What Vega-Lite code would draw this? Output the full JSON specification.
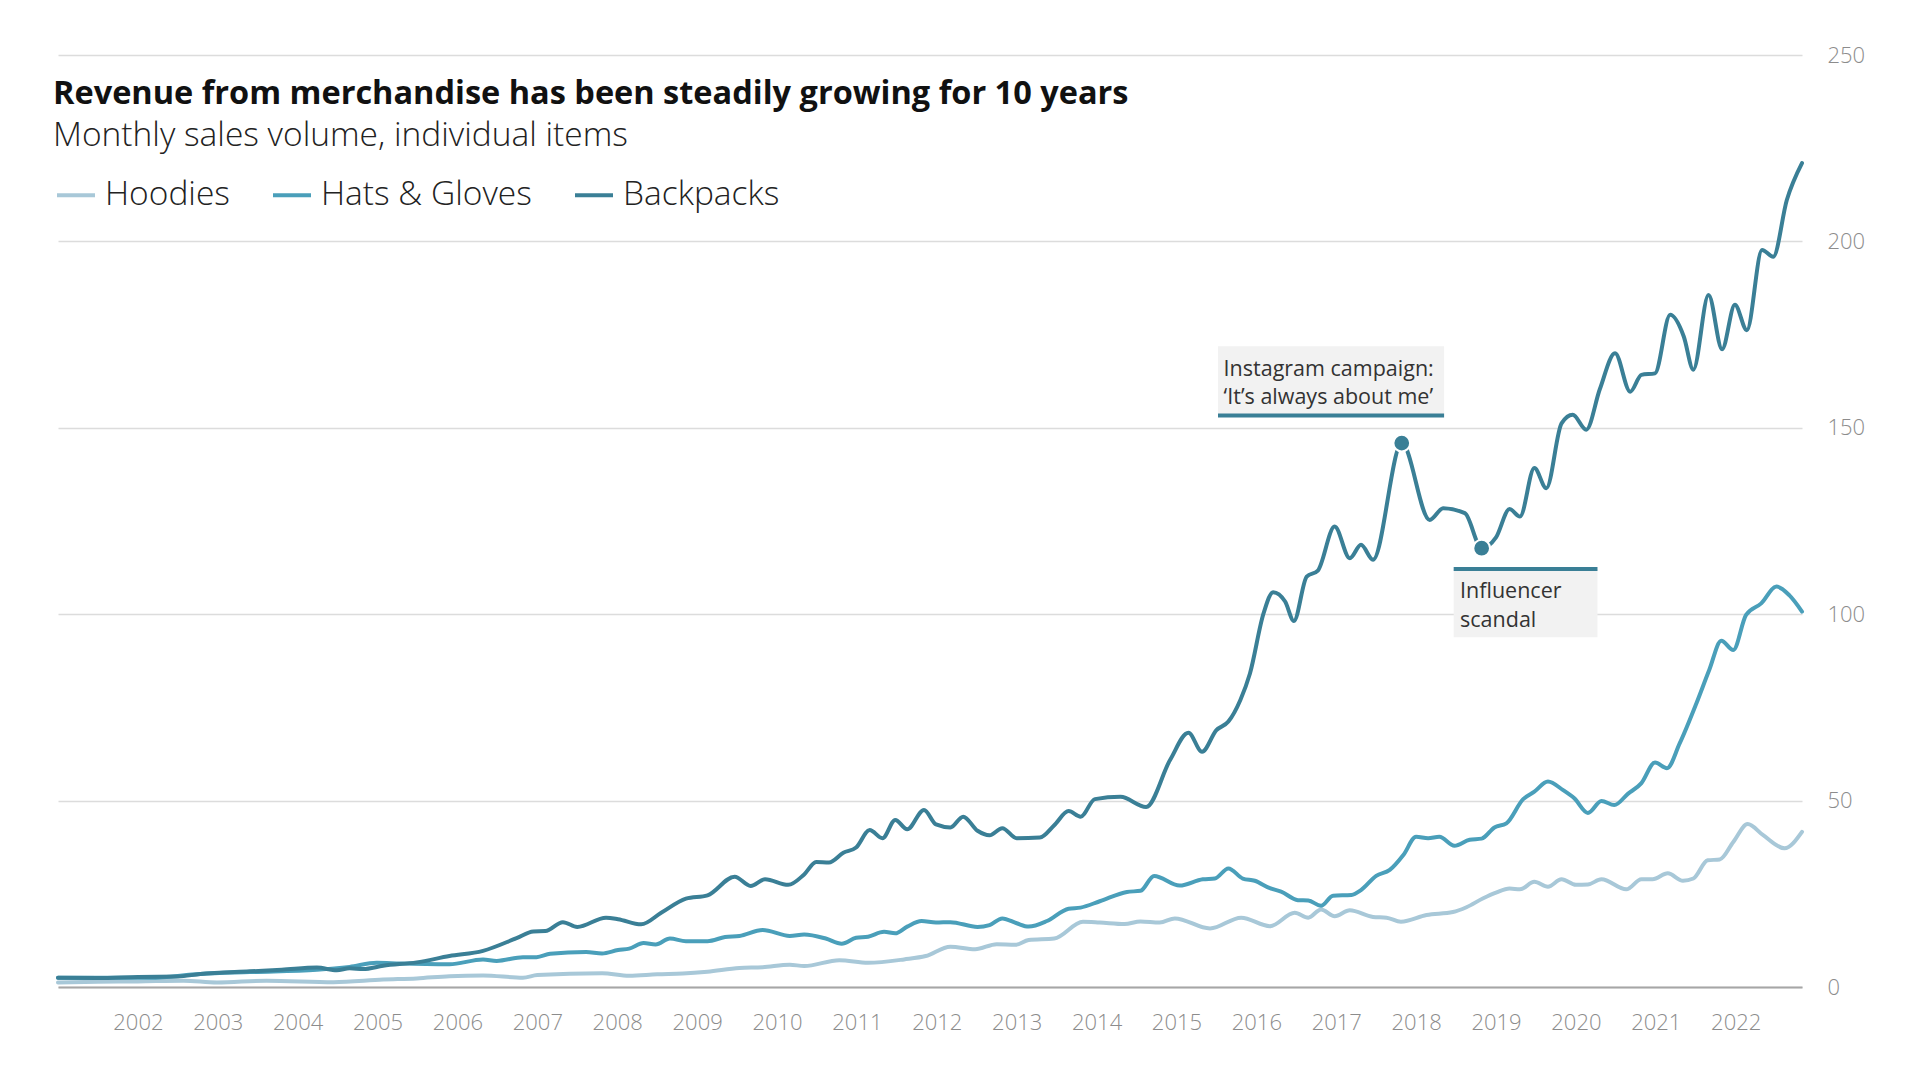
{
  "$schema": "https://vega.github.io/schema/vega-lite/v6.json",
  "description": "Monthly sales volume of merchandise, 2001-2022, three product lines with two annotated events.",
  "width": 1744,
  "height": 932,
  "autosize": {"type": "none"},
  "padding": {"left": 58, "top": 55, "right": 118, "bottom": 93},
  "background": "white",
  "config": {
    "view": {"stroke": null},
    "font": "Open Sans"
  },
  "title": {
    "text": "Revenue from merchandise has been steadily growing for 10 years",
    "subtitle": "Monthly sales volume, individual items",
    "anchor": "start",
    "frame": "group",
    "orient": "top",
    "offset": -108,
    "dx": -5,
    "font": "Open Sans",
    "fontSize": 32.5,
    "fontWeight": "bold",
    "color": "#111111",
    "subtitleFont": "Open Sans",
    "subtitleFontSize": 33.5,
    "subtitleFontWeight": 300,
    "subtitleColor": "#222222",
    "subtitlePadding": 9
  },
  "data": {
    "values": [
      {"series": "Hoodies", "year": 2001.0, "value": 1.2},
      {"series": "Hoodies", "year": 2001.5, "value": 1.4},
      {"series": "Hoodies", "year": 2002.0, "value": 1.5},
      {"series": "Hoodies", "year": 2002.57, "value": 1.7},
      {"series": "Hoodies", "year": 2002.99, "value": 1.2},
      {"series": "Hoodies", "year": 2003.61, "value": 1.7},
      {"series": "Hoodies", "year": 2004.45, "value": 1.3},
      {"series": "Hoodies", "year": 2005.07, "value": 2.0},
      {"series": "Hoodies", "year": 2005.49, "value": 2.3},
      {"series": "Hoodies", "year": 2005.9, "value": 2.9},
      {"series": "Hoodies", "year": 2006.32, "value": 3.1},
      {"series": "Hoodies", "year": 2006.82, "value": 2.5},
      {"series": "Hoodies", "year": 2007.0, "value": 3.2},
      {"series": "Hoodies", "year": 2007.81, "value": 3.7},
      {"series": "Hoodies", "year": 2008.15, "value": 3.0},
      {"series": "Hoodies", "year": 2008.5, "value": 3.4},
      {"series": "Hoodies", "year": 2008.82, "value": 3.6},
      {"series": "Hoodies", "year": 2009.13, "value": 4.1},
      {"series": "Hoodies", "year": 2009.53, "value": 5.1},
      {"series": "Hoodies", "year": 2009.82, "value": 5.3},
      {"series": "Hoodies", "year": 2010.16, "value": 6.0},
      {"series": "Hoodies", "year": 2010.34, "value": 5.6},
      {"series": "Hoodies", "year": 2010.78, "value": 7.2},
      {"series": "Hoodies", "year": 2011.14, "value": 6.5},
      {"series": "Hoodies", "year": 2011.59, "value": 7.4},
      {"series": "Hoodies", "year": 2011.86, "value": 8.3},
      {"series": "Hoodies", "year": 2012.17, "value": 10.8},
      {"series": "Hoodies", "year": 2012.48, "value": 10.1},
      {"series": "Hoodies", "year": 2012.75, "value": 11.5},
      {"series": "Hoodies", "year": 2012.98, "value": 11.3},
      {"series": "Hoodies", "year": 2013.15, "value": 12.6},
      {"series": "Hoodies", "year": 2013.47, "value": 13.0},
      {"series": "Hoodies", "year": 2013.83, "value": 17.5},
      {"series": "Hoodies", "year": 2014.04, "value": 17.3},
      {"series": "Hoodies", "year": 2014.35, "value": 16.9},
      {"series": "Hoodies", "year": 2014.55, "value": 17.6},
      {"series": "Hoodies", "year": 2014.79, "value": 17.3},
      {"series": "Hoodies", "year": 2014.98, "value": 18.4},
      {"series": "Hoodies", "year": 2015.42, "value": 15.7},
      {"series": "Hoodies", "year": 2015.81, "value": 18.6},
      {"series": "Hoodies", "year": 2016.17, "value": 16.3},
      {"series": "Hoodies", "year": 2016.48, "value": 19.9},
      {"series": "Hoodies", "year": 2016.65, "value": 18.6},
      {"series": "Hoodies", "year": 2016.81, "value": 20.8},
      {"series": "Hoodies", "year": 2016.98, "value": 19.0},
      {"series": "Hoodies", "year": 2017.17, "value": 20.6},
      {"series": "Hoodies", "year": 2017.46, "value": 18.8},
      {"series": "Hoodies", "year": 2017.63, "value": 18.6},
      {"series": "Hoodies", "year": 2017.81, "value": 17.5},
      {"series": "Hoodies", "year": 2018.13, "value": 19.3},
      {"series": "Hoodies", "year": 2018.46, "value": 20.1},
      {"series": "Hoodies", "year": 2018.63, "value": 21.4},
      {"series": "Hoodies", "year": 2018.84, "value": 23.8},
      {"series": "Hoodies", "year": 2019.0, "value": 25.3},
      {"series": "Hoodies", "year": 2019.17, "value": 26.4},
      {"series": "Hoodies", "year": 2019.3, "value": 26.2},
      {"series": "Hoodies", "year": 2019.48, "value": 28.2},
      {"series": "Hoodies", "year": 2019.65, "value": 26.9},
      {"series": "Hoodies", "year": 2019.82, "value": 28.9},
      {"series": "Hoodies", "year": 2020.0, "value": 27.4},
      {"series": "Hoodies", "year": 2020.15, "value": 27.5},
      {"series": "Hoodies", "year": 2020.32, "value": 28.9},
      {"series": "Hoodies", "year": 2020.63, "value": 26.2},
      {"series": "Hoodies", "year": 2020.82, "value": 28.9},
      {"series": "Hoodies", "year": 2020.96, "value": 28.9},
      {"series": "Hoodies", "year": 2021.15, "value": 30.5},
      {"series": "Hoodies", "year": 2021.34, "value": 28.5},
      {"series": "Hoodies", "year": 2021.47, "value": 29.1},
      {"series": "Hoodies", "year": 2021.65, "value": 34.0},
      {"series": "Hoodies", "year": 2021.8, "value": 34.2},
      {"series": "Hoodies", "year": 2021.97, "value": 38.9},
      {"series": "Hoodies", "year": 2022.15, "value": 43.7},
      {"series": "Hoodies", "year": 2022.34, "value": 40.8},
      {"series": "Hoodies", "year": 2022.61, "value": 37.2},
      {"series": "Hoodies", "year": 2022.83, "value": 41.6},

      {"series": "Hats & Gloves", "year": 2001.0, "value": 2.5},
      {"series": "Hats & Gloves", "year": 2002.15, "value": 2.5},
      {"series": "Hats & Gloves", "year": 2002.78, "value": 3.5},
      {"series": "Hats & Gloves", "year": 2003.4, "value": 4.0},
      {"series": "Hats & Gloves", "year": 2004.24, "value": 4.6},
      {"series": "Hats & Gloves", "year": 2004.65, "value": 5.4},
      {"series": "Hats & Gloves", "year": 2004.99, "value": 6.5},
      {"series": "Hats & Gloves", "year": 2005.28, "value": 6.3},
      {"series": "Hats & Gloves", "year": 2005.9, "value": 6.1},
      {"series": "Hats & Gloves", "year": 2006.32, "value": 7.4},
      {"series": "Hats & Gloves", "year": 2006.49, "value": 7.0},
      {"series": "Hats & Gloves", "year": 2006.82, "value": 8.0},
      {"series": "Hats & Gloves", "year": 2006.99, "value": 8.0},
      {"series": "Hats & Gloves", "year": 2007.16, "value": 8.9},
      {"series": "Hats & Gloves", "year": 2007.61, "value": 9.4},
      {"series": "Hats & Gloves", "year": 2007.81, "value": 9.0},
      {"series": "Hats & Gloves", "year": 2008.01, "value": 9.9},
      {"series": "Hats & Gloves", "year": 2008.15, "value": 10.3},
      {"series": "Hats & Gloves", "year": 2008.33, "value": 11.8},
      {"series": "Hats & Gloves", "year": 2008.48, "value": 11.4},
      {"series": "Hats & Gloves", "year": 2008.66, "value": 13.0},
      {"series": "Hats & Gloves", "year": 2008.86, "value": 12.3},
      {"series": "Hats & Gloves", "year": 2009.13, "value": 12.3},
      {"series": "Hats & Gloves", "year": 2009.35, "value": 13.4},
      {"series": "Hats & Gloves", "year": 2009.53, "value": 13.7},
      {"series": "Hats & Gloves", "year": 2009.82, "value": 15.3},
      {"series": "Hats & Gloves", "year": 2010.16, "value": 13.7},
      {"series": "Hats & Gloves", "year": 2010.34, "value": 14.1},
      {"series": "Hats & Gloves", "year": 2010.61, "value": 13.0},
      {"series": "Hats & Gloves", "year": 2010.81, "value": 11.6},
      {"series": "Hats & Gloves", "year": 2010.99, "value": 13.2},
      {"series": "Hats & Gloves", "year": 2011.14, "value": 13.5},
      {"series": "Hats & Gloves", "year": 2011.34, "value": 14.8},
      {"series": "Hats & Gloves", "year": 2011.48, "value": 14.4},
      {"series": "Hats & Gloves", "year": 2011.63, "value": 16.2},
      {"series": "Hats & Gloves", "year": 2011.81, "value": 17.7},
      {"series": "Hats & Gloves", "year": 2011.99, "value": 17.3},
      {"series": "Hats & Gloves", "year": 2012.17, "value": 17.4},
      {"series": "Hats & Gloves", "year": 2012.51, "value": 16.1},
      {"series": "Hats & Gloves", "year": 2012.66, "value": 16.6},
      {"series": "Hats & Gloves", "year": 2012.82, "value": 18.4},
      {"series": "Hats & Gloves", "year": 2013.0, "value": 17.1},
      {"series": "Hats & Gloves", "year": 2013.15, "value": 16.2},
      {"series": "Hats & Gloves", "year": 2013.38, "value": 17.7},
      {"series": "Hats & Gloves", "year": 2013.65, "value": 21.0},
      {"series": "Hats & Gloves", "year": 2013.8, "value": 21.3},
      {"series": "Hats & Gloves", "year": 2014.04, "value": 23.0},
      {"series": "Hats & Gloves", "year": 2014.38, "value": 25.5},
      {"series": "Hats & Gloves", "year": 2014.55, "value": 25.8},
      {"series": "Hats & Gloves", "year": 2014.72, "value": 29.8},
      {"series": "Hats & Gloves", "year": 2015.04, "value": 27.2},
      {"series": "Hats & Gloves", "year": 2015.33, "value": 28.9},
      {"series": "Hats & Gloves", "year": 2015.48, "value": 29.1},
      {"series": "Hats & Gloves", "year": 2015.65, "value": 31.8},
      {"series": "Hats & Gloves", "year": 2015.83, "value": 29.1},
      {"series": "Hats & Gloves", "year": 2015.98, "value": 28.5},
      {"series": "Hats & Gloves", "year": 2016.17, "value": 26.5},
      {"series": "Hats & Gloves", "year": 2016.31, "value": 25.6},
      {"series": "Hats & Gloves", "year": 2016.52, "value": 23.3},
      {"series": "Hats & Gloves", "year": 2016.65, "value": 23.2},
      {"series": "Hats & Gloves", "year": 2016.81, "value": 21.8},
      {"series": "Hats & Gloves", "year": 2016.96, "value": 24.5},
      {"series": "Hats & Gloves", "year": 2017.19, "value": 24.7},
      {"series": "Hats & Gloves", "year": 2017.31, "value": 26.0},
      {"series": "Hats & Gloves", "year": 2017.5, "value": 29.8},
      {"series": "Hats & Gloves", "year": 2017.67, "value": 31.4},
      {"series": "Hats & Gloves", "year": 2017.84, "value": 35.4},
      {"series": "Hats & Gloves", "year": 2018.0, "value": 40.3},
      {"series": "Hats & Gloves", "year": 2018.15, "value": 39.9},
      {"series": "Hats & Gloves", "year": 2018.29, "value": 40.3},
      {"series": "Hats & Gloves", "year": 2018.48, "value": 37.9},
      {"series": "Hats & Gloves", "year": 2018.67, "value": 39.5},
      {"series": "Hats & Gloves", "year": 2018.82, "value": 39.8},
      {"series": "Hats & Gloves", "year": 2018.98, "value": 42.8},
      {"series": "Hats & Gloves", "year": 2019.13, "value": 43.9},
      {"series": "Hats & Gloves", "year": 2019.34, "value": 50.4},
      {"series": "Hats & Gloves", "year": 2019.48, "value": 52.4},
      {"series": "Hats & Gloves", "year": 2019.65, "value": 55.1},
      {"series": "Hats & Gloves", "year": 2019.84, "value": 52.8},
      {"series": "Hats & Gloves", "year": 2019.98, "value": 50.6},
      {"series": "Hats & Gloves", "year": 2020.15, "value": 46.7},
      {"series": "Hats & Gloves", "year": 2020.32, "value": 49.9},
      {"series": "Hats & Gloves", "year": 2020.48, "value": 48.8},
      {"series": "Hats & Gloves", "year": 2020.65, "value": 51.8},
      {"series": "Hats & Gloves", "year": 2020.82, "value": 54.7},
      {"series": "Hats & Gloves", "year": 2020.99, "value": 60.2},
      {"series": "Hats & Gloves", "year": 2021.14, "value": 58.7},
      {"series": "Hats & Gloves", "year": 2021.3, "value": 65.4},
      {"series": "Hats & Gloves", "year": 2021.51, "value": 76.2},
      {"series": "Hats & Gloves", "year": 2021.67, "value": 85.1},
      {"series": "Hats & Gloves", "year": 2021.82, "value": 92.9},
      {"series": "Hats & Gloves", "year": 2021.97, "value": 90.4},
      {"series": "Hats & Gloves", "year": 2022.13, "value": 99.8},
      {"series": "Hats & Gloves", "year": 2022.32, "value": 102.9},
      {"series": "Hats & Gloves", "year": 2022.51, "value": 107.4},
      {"series": "Hats & Gloves", "year": 2022.67, "value": 105.1},
      {"series": "Hats & Gloves", "year": 2022.83, "value": 100.7},

      {"series": "Backpacks", "year": 2001.0, "value": 2.5},
      {"series": "Backpacks", "year": 2001.5, "value": 2.4},
      {"series": "Backpacks", "year": 2002.0, "value": 2.7},
      {"series": "Backpacks", "year": 2002.5, "value": 2.8},
      {"series": "Backpacks", "year": 2002.78, "value": 3.5},
      {"series": "Backpacks", "year": 2003.4, "value": 4.2},
      {"series": "Backpacks", "year": 2003.8, "value": 4.6},
      {"series": "Backpacks", "year": 2004.24, "value": 5.2},
      {"series": "Backpacks", "year": 2004.49, "value": 4.5},
      {"series": "Backpacks", "year": 2004.65, "value": 5.0},
      {"series": "Backpacks", "year": 2004.82, "value": 4.8},
      {"series": "Backpacks", "year": 2005.07, "value": 5.7},
      {"series": "Backpacks", "year": 2005.49, "value": 6.6},
      {"series": "Backpacks", "year": 2005.9, "value": 8.3},
      {"series": "Backpacks", "year": 2006.32, "value": 9.7},
      {"series": "Backpacks", "year": 2006.74, "value": 13.1},
      {"series": "Backpacks", "year": 2006.95, "value": 14.9},
      {"series": "Backpacks", "year": 2007.1, "value": 15.0},
      {"series": "Backpacks", "year": 2007.32, "value": 17.4},
      {"series": "Backpacks", "year": 2007.5, "value": 16.1},
      {"series": "Backpacks", "year": 2007.86, "value": 18.6},
      {"series": "Backpacks", "year": 2008.01, "value": 18.2},
      {"series": "Backpacks", "year": 2008.3, "value": 16.8},
      {"series": "Backpacks", "year": 2008.55, "value": 19.9},
      {"series": "Backpacks", "year": 2008.86, "value": 23.7},
      {"series": "Backpacks", "year": 2009.13, "value": 24.6},
      {"series": "Backpacks", "year": 2009.47, "value": 29.6},
      {"series": "Backpacks", "year": 2009.67, "value": 27.1},
      {"series": "Backpacks", "year": 2009.85, "value": 28.9},
      {"series": "Backpacks", "year": 2010.14, "value": 27.4},
      {"series": "Backpacks", "year": 2010.34, "value": 30.2},
      {"series": "Backpacks", "year": 2010.49, "value": 33.5},
      {"series": "Backpacks", "year": 2010.65, "value": 33.4},
      {"series": "Backpacks", "year": 2010.83, "value": 36.0},
      {"series": "Backpacks", "year": 2010.99, "value": 37.4},
      {"series": "Backpacks", "year": 2011.16, "value": 42.1},
      {"series": "Backpacks", "year": 2011.32, "value": 39.9},
      {"series": "Backpacks", "year": 2011.48, "value": 44.8},
      {"series": "Backpacks", "year": 2011.63, "value": 42.3},
      {"series": "Backpacks", "year": 2011.84, "value": 47.5},
      {"series": "Backpacks", "year": 2011.99, "value": 43.6},
      {"series": "Backpacks", "year": 2012.17, "value": 42.8},
      {"series": "Backpacks", "year": 2012.33, "value": 45.7},
      {"series": "Backpacks", "year": 2012.51, "value": 41.9},
      {"series": "Backpacks", "year": 2012.66, "value": 40.7},
      {"series": "Backpacks", "year": 2012.82, "value": 42.6},
      {"series": "Backpacks", "year": 2013.0, "value": 39.9},
      {"series": "Backpacks", "year": 2013.29, "value": 40.1},
      {"series": "Backpacks", "year": 2013.47, "value": 43.4},
      {"series": "Backpacks", "year": 2013.65, "value": 47.2},
      {"series": "Backpacks", "year": 2013.8, "value": 45.7},
      {"series": "Backpacks", "year": 2013.98, "value": 50.4},
      {"series": "Backpacks", "year": 2014.3, "value": 51.0},
      {"series": "Backpacks", "year": 2014.62, "value": 48.3},
      {"series": "Backpacks", "year": 2014.92, "value": 60.9},
      {"series": "Backpacks", "year": 2015.15, "value": 68.2},
      {"series": "Backpacks", "year": 2015.32, "value": 63.1},
      {"series": "Backpacks", "year": 2015.5, "value": 68.9},
      {"series": "Backpacks", "year": 2015.65, "value": 71.2},
      {"series": "Backpacks", "year": 2015.8, "value": 77.0},
      {"series": "Backpacks", "year": 2015.92, "value": 84.1},
      {"series": "Backpacks", "year": 2016.09, "value": 100.2},
      {"series": "Backpacks", "year": 2016.21, "value": 105.9},
      {"series": "Backpacks", "year": 2016.36, "value": 103.4},
      {"series": "Backpacks", "year": 2016.47, "value": 98.2},
      {"series": "Backpacks", "year": 2016.63, "value": 110.1},
      {"series": "Backpacks", "year": 2016.77, "value": 111.7},
      {"series": "Backpacks", "year": 2016.98, "value": 123.5},
      {"series": "Backpacks", "year": 2017.17, "value": 115.0},
      {"series": "Backpacks", "year": 2017.31, "value": 118.6},
      {"series": "Backpacks", "year": 2017.46, "value": 114.6},
      {"series": "Backpacks", "year": 2017.82, "value": 145.9},
      {"series": "Backpacks", "year": 2018.17, "value": 125.3},
      {"series": "Backpacks", "year": 2018.34, "value": 128.4},
      {"series": "Backpacks", "year": 2018.61, "value": 127.1},
      {"series": "Backpacks", "year": 2018.82, "value": 117.7},
      {"series": "Backpacks", "year": 2019.0, "value": 120.6},
      {"series": "Backpacks", "year": 2019.17, "value": 128.2},
      {"series": "Backpacks", "year": 2019.3, "value": 126.2},
      {"series": "Backpacks", "year": 2019.48, "value": 139.2},
      {"series": "Backpacks", "year": 2019.63, "value": 133.8},
      {"series": "Backpacks", "year": 2019.82, "value": 151.2},
      {"series": "Backpacks", "year": 2019.96, "value": 153.5},
      {"series": "Backpacks", "year": 2020.13, "value": 149.5},
      {"series": "Backpacks", "year": 2020.3, "value": 160.4},
      {"series": "Backpacks", "year": 2020.49, "value": 170.0},
      {"series": "Backpacks", "year": 2020.68, "value": 159.7},
      {"series": "Backpacks", "year": 2020.82, "value": 164.2},
      {"series": "Backpacks", "year": 2020.99, "value": 164.6},
      {"series": "Backpacks", "year": 2021.18, "value": 180.3},
      {"series": "Backpacks", "year": 2021.35, "value": 174.5},
      {"series": "Backpacks", "year": 2021.47, "value": 165.6},
      {"series": "Backpacks", "year": 2021.66, "value": 185.6},
      {"series": "Backpacks", "year": 2021.83, "value": 171.1},
      {"series": "Backpacks", "year": 2021.99, "value": 183.0},
      {"series": "Backpacks", "year": 2022.14, "value": 176.2},
      {"series": "Backpacks", "year": 2022.33, "value": 197.7},
      {"series": "Backpacks", "year": 2022.47, "value": 195.9},
      {"series": "Backpacks", "year": 2022.64, "value": 211.1},
      {"series": "Backpacks", "year": 2022.83, "value": 221.0}
    ]
  },
  "layer": [
    {
      "data": {
        "values": [
          {"event": "Instagram campaign", "start": 2015.52, "end": 2018.35, "top": 171.9, "bottom": 153.3},
          {"event": "Influencer scandal", "start": 2018.47, "end": 2020.27, "top": 112.1, "bottom": 93.8}
        ]
      },
      "mark": {"type": "rect", "fill": "#f2f2f2"},
      "encoding": {
        "x": {"field": "start", "type": "quantitative", "title": null},
        "x2": {"field": "end"},
        "y": {"field": "top", "type": "quantitative", "title": null},
        "y2": {"field": "bottom"}
      }
    },
    {
      "data": {
        "values": [
          {"event": "Instagram campaign", "start": 2015.52, "end": 2018.35, "edge": 153.3},
          {"event": "Influencer scandal", "start": 2018.47, "end": 2020.27, "edge": 112.1}
        ]
      },
      "mark": {"type": "rule", "stroke": "#3a7f96", "strokeWidth": 4},
      "encoding": {
        "x": {"field": "start", "type": "quantitative", "title": null},
        "x2": {"field": "end"},
        "y": {"field": "edge", "type": "quantitative", "title": null}
      }
    },
    {
      "data": {
        "values": [
          {"year": 2015.59, "value": 164.0, "label": "Instagram campaign:"},
          {"year": 2015.59, "value": 156.4, "label": "‘It’s always about me’"},
          {"year": 2018.55, "value": 104.3, "label": "Influencer"},
          {"year": 2018.55, "value": 96.7, "label": "scandal"}
        ]
      },
      "mark": {"type": "text", "align": "left", "baseline": "alphabetic", "font": "Open Sans", "fontSize": 21.5, "color": "#333333"},
      "encoding": {
        "x": {"field": "year", "type": "quantitative", "title": null},
        "y": {"field": "value", "type": "quantitative", "title": null},
        "text": {"field": "label"}
      }
    },
    {
      "mark": {"type": "line", "interpolate": "monotone", "strokeWidth": 4, "strokeCap": "round", "strokeJoin": "round"},
      "encoding": {
        "x": {
          "field": "year",
          "type": "quantitative",
          "title": null,
          "scale": {"domain": [2001, 2022.83], "nice": false, "zero": false},
          "axis": {
            "values": [2002, 2003, 2004, 2005, 2006, 2007, 2008, 2009, 2010, 2011, 2012, 2013, 2014, 2015, 2016, 2017, 2018, 2019, 2020, 2021, 2022],
            "format": "d",
            "grid": false,
            "ticks": false,
            "domain": true,
            "domainColor": "#a6a6a6",
            "domainWidth": 2,
            "labelPadding": 25,
            "labelFont": "Open Sans",
            "labelFontSize": 22,
            "labelFontWeight": 300,
            "labelColor": "#8c8c8c"
          }
        },
        "y": {
          "field": "value",
          "type": "quantitative",
          "title": null,
          "scale": {"domain": [0, 250], "nice": false},
          "axis": {
            "orient": "right",
            "values": [0, 50, 100, 150, 200, 250],
            "grid": true,
            "gridColor": "#dcdcdc",
            "gridWidth": 1.5,
            "domain": false,
            "ticks": false,
            "labelPadding": 25,
            "labelFont": "Open Sans",
            "labelFontSize": 22,
            "labelFontWeight": 300,
            "labelColor": "#8c8c8c"
          }
        },
        "color": {
          "field": "series",
          "type": "nominal",
          "scale": {
            "domain": ["Hoodies", "Hats & Gloves", "Backpacks"],
            "range": ["#a8c8d8", "#4a9fba", "#3a7f96"]
          },
          "legend": {
            "title": null,
            "orient": "none",
            "legendX": -3,
            "legendY": 119,
            "direction": "horizontal",
            "symbolType": "stroke",
            "symbolSize": 1444,
            "symbolStrokeWidth": 4,
            "labelFont": "Open Sans",
            "labelFontSize": 33.5,
            "labelFontWeight": 300,
            "labelColor": "#222222",
            "labelOffset": 8,
            "labelLimit": 400,
            "columnPadding": 35
          }
        }
      }
    },
    {
      "data": {
        "values": [
          {"year": 2017.82, "value": 145.9, "event": "Instagram campaign"},
          {"year": 2018.82, "value": 117.7, "event": "Influencer scandal"}
        ]
      },
      "mark": {"type": "point", "shape": "circle", "filled": true, "size": 280, "fill": "#3a7f96", "stroke": "white", "strokeWidth": 2, "opacity": 1},
      "encoding": {
        "x": {"field": "year", "type": "quantitative", "title": null},
        "y": {"field": "value", "type": "quantitative", "title": null}
      }
    }
  ]
}
